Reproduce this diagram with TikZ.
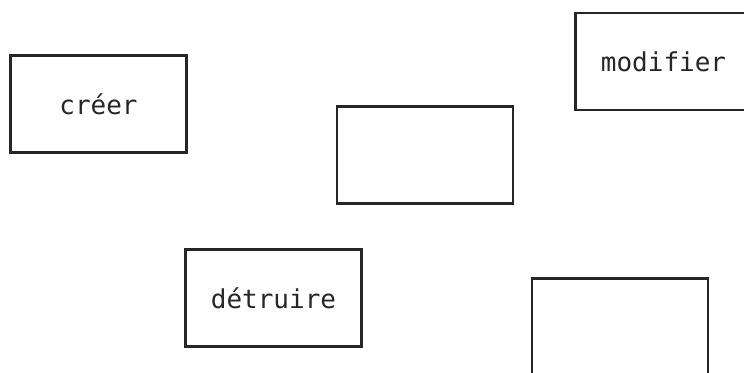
\documentclass[tikz,border=0pt]{standalone}
\usepackage{fontspec}
\setmonofont{DejaVu Sans Mono}
\usepackage{tikz}

\begin{document}
\begin{tikzpicture}[x=0.5pt,y=-0.5pt,
    boite/.style={draw=black!85, line width=1.1pt, minimum width=88pt, minimum height=48.5pt,
      inner sep=0pt, text=black!85, font=\ttfamily\fontsize{13}{15}\selectfont}]
    \useasboundingbox (0,0) rectangle (744,372);
    \clip (0,0) rectangle (744,372);
    \node[boite] (creer) at (98.5,104) {créer};
    \node[boite] (vide1) at (425,155) {};
    \node[boite] (modifier) at (663.5,61.5) {modifier};
    \node[boite] (detruire) at (273.5,298) {détruire};
    \node[boite] (vide2) at (620,327) {};
  \end{tikzpicture}
\end{document}
